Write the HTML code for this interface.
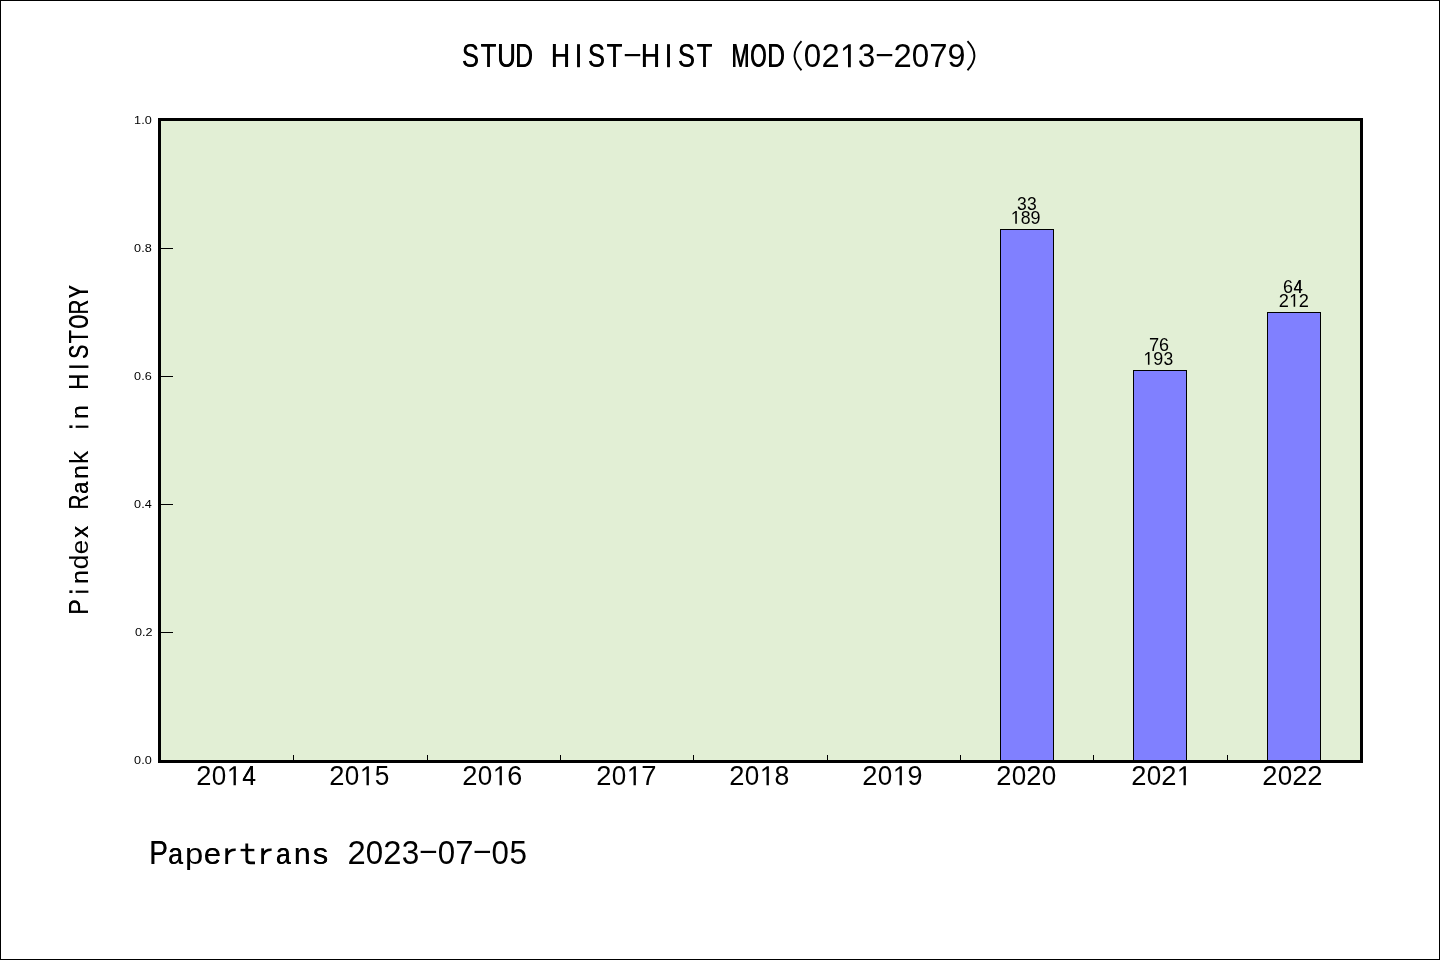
<!DOCTYPE html>
<html><head><meta charset="utf-8"><title>chart</title>
<style>html,body{margin:0;padding:0;background:#fff}svg{display:block;will-change:transform}text{font-family:"Liberation Sans",sans-serif}</style></head>
<body>
<svg width="1440" height="960" viewBox="0 0 1440 960" font-family="'Liberation Sans', sans-serif" fill="#000">
<g shape-rendering="crispEdges">
<rect x="0" y="0" width="1440" height="960" fill="#000"/>
<rect x="1" y="1" width="1438" height="958" fill="#fff"/>
<rect x="158" y="118" width="1205" height="645" fill="#000"/>
<rect x="161" y="121" width="1199" height="639" fill="#E2EFD5"/>
<rect x="1000" y="229" width="54" height="531" fill="#000"/>
<rect x="1001" y="230" width="52" height="530" fill="#8080FF"/>
<rect x="1133" y="370" width="54" height="390" fill="#000"/>
<rect x="1134" y="371" width="52" height="389" fill="#8080FF"/>
<rect x="1267" y="312" width="54" height="448" fill="#000"/>
<rect x="1268" y="313" width="52" height="447" fill="#8080FF"/>
<rect x="161" y="248" width="12" height="1"/>
<rect x="161" y="376" width="12" height="1"/>
<rect x="161" y="504" width="12" height="1"/>
<rect x="161" y="632" width="12" height="1"/>
<rect x="293" y="755" width="1" height="5"/>
<rect x="427" y="755" width="1" height="5"/>
<rect x="560" y="755" width="1" height="5"/>
<rect x="693" y="755" width="1" height="5"/>
<rect x="827" y="755" width="1" height="5"/>
<rect x="960" y="755" width="1" height="5"/>
<rect x="1093" y="755" width="1" height="5"/>
<rect x="1227" y="755" width="1" height="5"/>
</g>
<text transform="matrix(1.12,0,0,1,134.1,124.05)" font-size="11.3">1.0</text>
<text transform="matrix(1.12,0,0,1,134.1,252.05)" font-size="11.3">0.8</text>
<text transform="matrix(1.12,0,0,1,134.1,380.05)" font-size="11.3">0.6</text>
<text transform="matrix(1.12,0,0,1,134.1,508.05)" font-size="11.3">0.4</text>
<text transform="matrix(1.12,0,0,1,135.0,636.05)" font-size="11.3">0.2</text>
<text transform="matrix(1.12,0,0,1,134.1,764.05)" font-size="11.3">0.0</text>
<text transform="matrix(0.7579,0,0,1.000,461.85,67.20)" font-size="33.44">S</text><text transform="matrix(0.7579,0,0,1.000,462.26,67.20)" font-size="33.44">S</text><text transform="matrix(0.7739,0,0,1.000,480.42,67.20)" font-size="33.44">T</text><text transform="matrix(0.7739,0,0,1.000,480.78,67.20)" font-size="33.44">T</text><text transform="matrix(0.7700,0,0,1.000,497.02,67.20)" font-size="33.44">U</text><text transform="matrix(0.7700,0,0,1.000,497.38,67.20)" font-size="33.44">U</text><text transform="matrix(0.7333,0,0,1.000,514.99,67.20)" font-size="33.44">D</text><text transform="matrix(0.7333,0,0,1.000,515.47,67.20)" font-size="33.44">D</text><text transform="matrix(0.7850,0,0,1.000,550.85,67.20)" font-size="33.44">H</text><text transform="matrix(0.7850,0,0,1.000,551.17,67.20)" font-size="33.44">H</text><rect x="577.06" y="44.20" width="2.88" height="23.00"/><text transform="matrix(0.7579,0,0,1.000,587.85,67.20)" font-size="33.44">S</text><text transform="matrix(0.7579,0,0,1.000,588.26,67.20)" font-size="33.44">S</text><text transform="matrix(0.7739,0,0,1.000,606.42,67.20)" font-size="33.44">T</text><text transform="matrix(0.7739,0,0,1.000,606.78,67.20)" font-size="33.44">T</text><rect x="624.76" y="54.01" width="15.48" height="2.20"/><text transform="matrix(0.7850,0,0,1.000,640.85,67.20)" font-size="33.44">H</text><text transform="matrix(0.7850,0,0,1.000,641.17,67.20)" font-size="33.44">H</text><rect x="667.06" y="44.20" width="2.88" height="23.00"/><text transform="matrix(0.7579,0,0,1.000,677.85,67.20)" font-size="33.44">S</text><text transform="matrix(0.7579,0,0,1.000,678.26,67.20)" font-size="33.44">S</text><text transform="matrix(0.7739,0,0,1.000,696.42,67.20)" font-size="33.44">T</text><text transform="matrix(0.7739,0,0,1.000,696.78,67.20)" font-size="33.44">T</text><text transform="matrix(0.6373,0,0,1.000,731.23,67.20)" font-size="33.44">M</text><text transform="matrix(0.6373,0,0,1.000,732.01,67.20)" font-size="33.44">M</text><text transform="matrix(0.6228,0,0,1.000,749.99,67.20)" font-size="33.44">O</text><text transform="matrix(0.6228,0,0,1.000,750.81,67.20)" font-size="33.44">O</text><text transform="matrix(0.7333,0,0,1.000,766.99,67.20)" font-size="33.44">D</text><text transform="matrix(0.7333,0,0,1.000,767.47,67.20)" font-size="33.44">D</text><path d="M801.52,41.21 Q787.66,55.73 801.52,70.26" fill="none" stroke="#000" stroke-width="1.87"/><text transform="matrix(0.9345,0,0,1.000,803.81,67.20)" font-size="33.44">0</text><text transform="matrix(0.9806,0,0,1.000,821.38,67.20)" font-size="33.44">2</text><polygon points="848.00,67.20 850.80,67.20 850.80,44.20 848.43,44.20 843.10,48.30 843.10,51.00 848.00,47.22"/><text transform="matrix(0.9422,0,0,1.000,857.83,67.20)" font-size="33.44">3</text><rect x="876.76" y="54.01" width="15.48" height="2.20"/><text transform="matrix(0.9806,0,0,1.000,893.38,67.20)" font-size="33.44">2</text><text transform="matrix(0.9345,0,0,1.000,911.81,67.20)" font-size="33.44">0</text><text transform="matrix(0.9827,0,0,1.000,929.35,67.20)" font-size="33.44">7</text><text transform="matrix(0.9671,0,0,1.000,947.51,67.20)" font-size="33.44">9</text><path d="M967.48,41.21 Q981.34,55.73 967.48,70.26" fill="none" stroke="#000" stroke-width="1.87"/>
<text transform="matrix(0.8307,0,0,1.000,149.24,864.00)" font-size="33.44">P</text><text transform="matrix(0.8307,0,0,1.000,149.42,864.00)" font-size="33.44">P</text><text transform="matrix(0.7916,0,0,0.890,168.06,864.00)" font-size="33.44">a</text><text transform="matrix(0.7916,0,0,0.890,168.57,864.00)" font-size="33.44">a</text><text transform="matrix(0.9814,0,0,0.890,185.06,864.00)" font-size="33.44">p</text><text transform="matrix(0.9210,0,0,0.890,203.82,864.00)" font-size="33.44">e</text><text transform="matrix(0.9210,0,0,0.890,203.97,864.00)" font-size="33.44">e</text><rect x="225.30" y="848.30" width="2.81" height="15.70"/><path d="M227.24,854.82 Q229.22,849.42 235.70,849.78" fill="none" stroke="#000" stroke-width="2.59"/><path d="M246.78,843.59 L246.78,859.50 Q246.78,862.85 250.60,862.85 L254.99,862.85" fill="none" stroke="#000" stroke-width="2.81"/><rect x="240.59" y="848.86" width="13.72" height="2.38"/><rect x="261.22" y="848.30" width="2.81" height="15.70"/><path d="M263.16,854.82 Q265.14,849.42 271.62,849.78" fill="none" stroke="#000" stroke-width="2.59"/><text transform="matrix(0.7916,0,0,0.890,275.82,864.00)" font-size="33.44">a</text><text transform="matrix(0.7916,0,0,0.890,276.33,864.00)" font-size="33.44">a</text><text transform="matrix(0.9000,0,0,0.890,293.82,864.00)" font-size="33.44">n</text><text transform="matrix(0.9000,0,0,0.890,294.03,864.00)" font-size="33.44">n</text><text transform="matrix(0.9165,0,0,0.890,312.75,864.00)" font-size="33.44">s</text><text transform="matrix(0.9165,0,0,0.890,312.92,864.00)" font-size="33.44">s</text><text transform="matrix(0.9806,0,0,1.000,347.44,864.00)" font-size="33.44">2</text><text transform="matrix(0.9345,0,0,1.000,365.83,864.00)" font-size="33.44">0</text><text transform="matrix(0.9806,0,0,1.000,383.36,864.00)" font-size="33.44">2</text><text transform="matrix(0.9422,0,0,1.000,401.77,864.00)" font-size="33.44">3</text><rect x="420.66" y="850.81" width="15.48" height="2.20"/><text transform="matrix(0.9345,0,0,1.000,437.67,864.00)" font-size="33.44">0</text><text transform="matrix(0.9827,0,0,1.000,455.17,864.00)" font-size="33.44">7</text><rect x="474.54" y="850.81" width="15.48" height="2.20"/><text transform="matrix(0.9345,0,0,1.000,491.55,864.00)" font-size="33.44">0</text><text transform="matrix(0.9422,0,0,1.000,509.47,864.00)" font-size="33.44">5</text>
<text transform="matrix(0.9806,0,0,1.000,196.35,785.30)" font-size="27.87">2</text><text transform="matrix(0.9345,0,0,1.000,211.71,785.30)" font-size="27.87">0</text><polygon points="233.53,785.30 235.87,785.30 235.87,766.13 233.89,766.13 229.45,769.55 229.45,771.80 233.53,768.65"/><text transform="matrix(0.8719,0,0,1.000,242.15,785.30)" font-size="27.87">4</text><text transform="matrix(0.8719,0,0,1.000,242.39,785.30)" font-size="27.87">4</text>
<text transform="matrix(0.9806,0,0,1.000,329.35,785.30)" font-size="27.87">2</text><text transform="matrix(0.9345,0,0,1.000,344.71,785.30)" font-size="27.87">0</text><polygon points="366.53,785.30 368.87,785.30 368.87,766.13 366.89,766.13 362.45,769.55 362.45,771.80 366.53,768.65"/><text transform="matrix(0.9422,0,0,1.000,374.67,785.30)" font-size="27.87">5</text>
<text transform="matrix(0.9806,0,0,1.000,462.35,785.30)" font-size="27.87">2</text><text transform="matrix(0.9345,0,0,1.000,477.71,785.30)" font-size="27.87">0</text><polygon points="499.53,785.30 501.87,785.30 501.87,766.13 499.89,766.13 495.45,769.55 495.45,771.80 499.53,768.65"/><text transform="matrix(0.9681,0,0,1.000,507.35,785.30)" font-size="27.87">6</text>
<text transform="matrix(0.9806,0,0,1.000,596.35,785.30)" font-size="27.87">2</text><text transform="matrix(0.9345,0,0,1.000,611.71,785.30)" font-size="27.87">0</text><polygon points="633.53,785.30 635.87,785.30 635.87,766.13 633.89,766.13 629.45,769.55 629.45,771.80 633.53,768.65"/><text transform="matrix(0.9827,0,0,1.000,641.32,785.30)" font-size="27.87">7</text>
<text transform="matrix(0.9806,0,0,1.000,729.35,785.30)" font-size="27.87">2</text><text transform="matrix(0.9345,0,0,1.000,744.71,785.30)" font-size="27.87">0</text><polygon points="766.53,785.30 768.87,785.30 768.87,766.13 766.89,766.13 762.45,769.55 762.45,771.80 766.53,768.65"/><text transform="matrix(0.9520,0,0,1.000,774.57,785.30)" font-size="27.87">8</text>
<text transform="matrix(0.9806,0,0,1.000,862.35,785.30)" font-size="27.87">2</text><text transform="matrix(0.9345,0,0,1.000,877.71,785.30)" font-size="27.87">0</text><polygon points="899.53,785.30 901.87,785.30 901.87,766.13 899.89,766.13 895.45,769.55 895.45,771.80 899.53,768.65"/><text transform="matrix(0.9671,0,0,1.000,907.46,785.30)" font-size="27.87">9</text>
<text transform="matrix(0.9806,0,0,1.000,996.35,785.30)" font-size="27.87">2</text><text transform="matrix(0.9345,0,0,1.000,1011.71,785.30)" font-size="27.87">0</text><text transform="matrix(0.9806,0,0,1.000,1026.35,785.30)" font-size="27.87">2</text><text transform="matrix(0.9345,0,0,1.000,1041.71,785.30)" font-size="27.87">0</text>
<text transform="matrix(0.9806,0,0,1.000,1131.35,785.30)" font-size="27.87">2</text><text transform="matrix(0.9345,0,0,1.000,1146.71,785.30)" font-size="27.87">0</text><text transform="matrix(0.9806,0,0,1.000,1161.35,785.30)" font-size="27.87">2</text><polygon points="1183.53,785.30 1185.87,785.30 1185.87,766.13 1183.89,766.13 1179.45,769.55 1179.45,771.80 1183.53,768.65"/>
<text transform="matrix(0.9806,0,0,1.000,1262.35,785.30)" font-size="27.87">2</text><text transform="matrix(0.9345,0,0,1.000,1277.71,785.30)" font-size="27.87">0</text><text transform="matrix(0.9806,0,0,1.000,1292.35,785.30)" font-size="27.87">2</text><text transform="matrix(0.9806,0,0,1.000,1307.35,785.30)" font-size="27.87">2</text>
<polygon points="1015.27,223.80 1016.83,223.80 1016.83,211.02 1015.51,211.02 1012.55,213.30 1012.55,214.80 1015.27,212.70"/><text transform="matrix(0.9520,0,0,1.000,1020.63,223.80)" font-size="18.58">8</text><text transform="matrix(0.9671,0,0,1.000,1030.56,223.80)" font-size="18.58">9</text>
<text transform="matrix(0.9422,0,0,1.000,1017.03,210.00)" font-size="18.58">3</text><text transform="matrix(0.9422,0,0,1.000,1027.03,210.00)" font-size="18.58">3</text>
<polygon points="1147.92,364.80 1149.48,364.80 1149.48,352.02 1148.16,352.02 1145.20,354.30 1145.20,355.80 1147.92,353.70"/><text transform="matrix(0.9671,0,0,1.000,1153.21,364.80)" font-size="18.58">9</text><text transform="matrix(0.9422,0,0,1.000,1163.38,364.80)" font-size="18.58">3</text>
<text transform="matrix(0.9827,0,0,1.000,1148.91,351.00)" font-size="18.58">7</text><text transform="matrix(0.9681,0,0,1.000,1158.94,351.00)" font-size="18.58">6</text>
<text transform="matrix(0.9806,0,0,1.000,1278.83,306.80)" font-size="18.58">2</text><polygon points="1293.62,306.80 1295.18,306.80 1295.18,294.02 1293.86,294.02 1290.90,296.30 1290.90,297.80 1293.62,295.70"/><text transform="matrix(0.9806,0,0,1.000,1298.83,306.80)" font-size="18.58">2</text>
<text transform="matrix(0.9681,0,0,1.000,1282.94,293.00)" font-size="18.58">6</text><text transform="matrix(0.8719,0,0,1.000,1293.47,293.00)" font-size="18.58">4</text><text transform="matrix(0.8719,0,0,1.000,1293.63,293.00)" font-size="18.58">4</text>
<g transform="translate(88.4,614.2) rotate(-90)"><text transform="matrix(0.8307,0,0,1.000,-0.64,0.00)" font-size="27.87">P</text><text transform="matrix(0.8307,0,0,1.000,-0.49,0.00)" font-size="27.87">P</text><rect x="21.42" y="-12.75" width="2.16" height="12.75"/><rect x="21.18" y="-19.05" width="2.64" height="3.15"/><text transform="matrix(0.9000,0,0,0.890,30.12,0.00)" font-size="27.87">n</text><text transform="matrix(0.9000,0,0,0.890,30.29,0.00)" font-size="27.87">n</text><text transform="matrix(0.9455,0,0,0.930,44.94,0.00)" font-size="27.87">d</text><text transform="matrix(0.9291,0,0,0.890,59.95,0.00)" font-size="27.87">e</text><text transform="matrix(0.8614,0,0,0.890,76.21,0.00)" font-size="27.87">x</text><text transform="matrix(0.8614,0,0,0.890,76.47,0.00)" font-size="27.87">x</text><text transform="matrix(0.7312,0,0,1.000,104.58,0.00)" font-size="27.87">R</text><text transform="matrix(0.7312,0,0,1.000,104.98,0.00)" font-size="27.87">R</text><text transform="matrix(0.7916,0,0,0.890,120.08,0.00)" font-size="27.87">a</text><text transform="matrix(0.7916,0,0,0.890,120.51,0.00)" font-size="27.87">a</text><text transform="matrix(0.9000,0,0,0.890,135.12,0.00)" font-size="27.87">n</text><text transform="matrix(0.9000,0,0,0.890,135.29,0.00)" font-size="27.87">n</text><text transform="matrix(0.9547,0,0,0.930,150.16,0.00)" font-size="27.87">k</text><rect x="186.42" y="-12.75" width="2.16" height="12.75"/><rect x="186.18" y="-19.05" width="2.64" height="3.15"/><text transform="matrix(0.9000,0,0,0.890,195.12,0.00)" font-size="27.87">n</text><text transform="matrix(0.9000,0,0,0.890,195.29,0.00)" font-size="27.87">n</text><text transform="matrix(0.7850,0,0,1.000,224.46,0.00)" font-size="27.87">H</text><text transform="matrix(0.7850,0,0,1.000,224.73,0.00)" font-size="27.87">H</text><rect x="246.30" y="-19.17" width="2.40" height="19.17"/><text transform="matrix(0.7579,0,0,1.000,255.29,0.00)" font-size="27.87">S</text><text transform="matrix(0.7579,0,0,1.000,255.63,0.00)" font-size="27.87">S</text><text transform="matrix(0.7739,0,0,1.000,270.77,0.00)" font-size="27.87">T</text><text transform="matrix(0.7739,0,0,1.000,271.07,0.00)" font-size="27.87">T</text><text transform="matrix(0.6228,0,0,1.000,285.41,0.00)" font-size="27.87">O</text><text transform="matrix(0.6228,0,0,1.000,286.10,0.00)" font-size="27.87">O</text><text transform="matrix(0.7312,0,0,1.000,299.58,0.00)" font-size="27.87">R</text><text transform="matrix(0.7312,0,0,1.000,299.98,0.00)" font-size="27.87">R</text><text transform="matrix(0.6916,0,0,1.000,315.82,0.00)" font-size="27.87">Y</text><text transform="matrix(0.6916,0,0,1.000,316.33,0.00)" font-size="27.87">Y</text></g>
</svg>
</body></html>
